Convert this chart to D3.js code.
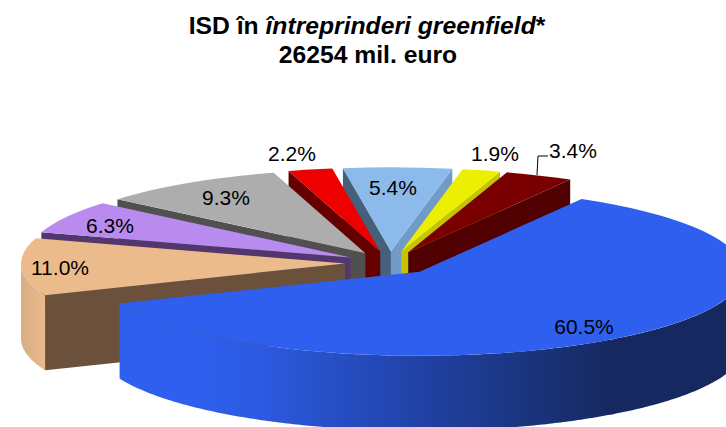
<!DOCTYPE html>
<html>
<head>
<meta charset="utf-8">
<style>
  html, body { margin: 0; padding: 0; background: #fff; }
  svg { display: block; }
  text { font-family: "Liberation Sans", Arial, sans-serif; }
</style>
</head>
<body>
<div id="container"></div>
<script src="https://d3js.org/d3.v7.min.js"></script>
<script>
var labels = ["60.5%", "11.0%", "6.3%", "9.3%", "2.2%", "5.4%", "1.9%", "3.4%"];
var values = [60.5, 11.0, 6.3, 9.3, 2.2, 5.4, 1.9, 3.4];

var topColors = ["#2e5fee", "#ebbb8b", "#b98bee", "#adadad", "#ee0000", "#8cbbeb", "#eeee00", "#7a0000"];
var startWallColors = ["#1b3a90", "#6b503c", "#52376f", "#505050", "#660000", "#45607a", "#8f8f00", "#500000"];
var endWallColors = ["#1b3a90", "#6b503c", "#52376f", "#505050", "#660000", "#709bc6", "#c4c400", "#500000"];

var width = 726, height = 427;
var cx = 390, cy = 263;      // pie centre on screen
var rx = 324, ry = 84;       // ellipse of the tilted pie
var explode = 45, depth = 75;
var tilt = ry / rx;

// label centres
var labelPos = [[584, 326], [60, 267], [110, 225], [226, 197], [292, 153], [393, 187], [495, 153], [573, 150]];

var svg = d3.select("#container").append("svg")
  .attr("width", width)
  .attr("height", height);

var defs = svg.append("defs");

var blueGrad = defs.append("linearGradient").attr("id", "blueWall")
  .attr("gradientUnits", "userSpaceOnUse")
  .attr("x1", 119).attr("x2", 744).attr("y1", 0).attr("y2", 0);
[[0, "#2e5fee"], [0.12, "#2e5fee"], [0.22, "#2c5ae2"], [0.45, "#2245ad"], [0.79, "#15285f"], [1, "#15285f"]].forEach(function (s) {
  blueGrad.append("stop").attr("offset", s[0]).attr("stop-color", s[1]);
});

var tanGrad = defs.append("linearGradient").attr("id", "tanWall")
  .attr("gradientUnits", "userSpaceOnUse")
  .attr("x1", 21).attr("x2", 44).attr("y1", 0).attr("y2", 0);
[[0, "#d8ae84"], [1, "#e8b98b"]].forEach(function (s) {
  tanGrad.append("stop").attr("offset", s[0]).attr("stop-color", s[1]);
});

var arcWallFill = { 0: "url(#blueWall)", 1: "url(#tanWall)" };

var pie = d3.pie().sort(null)
  .startAngle(30 * Math.PI / 180)
  .endAngle(390 * Math.PI / 180);

var slices = pie(values).map(function (d, i) {
  var mid = (d.startAngle + d.endAngle) / 2;
  d.i = i;
  d.mid = mid;
  d.ox = cx + explode * Math.sin(mid);
  d.oy = cy - explode * Math.cos(mid) * tilt;
  return d;
});

// back slices first, so the nearer ones cover their walls
slices.sort(function (a, b) { return Math.cos(b.mid) - Math.cos(a.mid); });

var line = d3.line();
var topArc = d3.arc().innerRadius(0).outerRadius(rx);

function rimPoint(d, a, drop) {
  return [d.ox + rx * Math.sin(a), d.oy - ry * Math.cos(a) + drop];
}

function radialWall(d, a) {
  return line([
    [d.ox, d.oy],
    rimPoint(d, a, 0),
    rimPoint(d, a, depth),
    [d.ox, d.oy + depth]
  ]);
}

// part of the rim that faces the viewer, between 90 and 270 degrees
function rimWall(d) {
  var a0 = Math.max(d.startAngle, Math.PI / 2);
  var a1 = Math.min(d.endAngle, 3 * Math.PI / 2);
  if (a1 <= a0) return null;
  var angles = d3.range(a0, a1, 0.01).concat([a1]);
  var upper = angles.map(function (a) { return rimPoint(d, a, 0); });
  var lower = angles.slice().reverse().map(function (a) { return rimPoint(d, a, depth); });
  return line(upper.concat(lower)) + "Z";
}

var pieG = svg.append("g");

slices.forEach(function (d) {
  var g = pieG.append("g");

  // a cut face shows only if its normal turns towards the viewer
  if (Math.cos(d.startAngle - Math.PI / 2) < 0) {
    g.append("path").attr("d", radialWall(d, d.startAngle)).attr("fill", startWallColors[d.i]);
  }
  if (Math.cos(d.endAngle + Math.PI / 2) < 0) {
    g.append("path").attr("d", radialWall(d, d.endAngle)).attr("fill", endWallColors[d.i]);
  }

  var rim = rimWall(d);
  if (rim) {
    g.append("path").attr("d", rim).attr("fill", arcWallFill[d.i]);
  }

  g.append("path")
    .attr("d", topArc(d))
    .attr("transform", "translate(" + d.ox + "," + d.oy + ") scale(1," + tilt + ")")
    .attr("fill", topColors[d.i]);
});

// leader line of the 3.4% label
svg.append("path")
  .attr("d", line([[537, 175], [538, 156], [548, 156]]))
  .attr("fill", "none")
  .attr("stroke", "#000")
  .attr("stroke-width", 1);

svg.append("g").selectAll("text").data(labels).enter().append("text")
  .attr("x", function (d, i) { return labelPos[i][0]; })
  .attr("y", function (d, i) { return labelPos[i][1]; })
  .attr("text-anchor", "middle")
  .attr("dominant-baseline", "central")
  .style("font-size", "21px")
  .style("fill", "#000")
  .text(function (d) { return d; });

// title
var t1 = svg.append("text")
  .attr("x", 367).attr("y", 34)
  .attr("text-anchor", "middle")
  .style("font-size", "24.7px")
  .style("font-weight", "bold");
t1.append("tspan").text("ISD în ");
t1.append("tspan").style("font-style", "italic").text("întreprinderi greenfield");
t1.append("tspan").text("*");

svg.append("text")
  .attr("x", 368).attr("y", 63)
  .attr("text-anchor", "middle")
  .style("font-size", "24.7px")
  .style("font-weight", "bold")
  .text("26254 mil. euro");
</script>
</body>
</html>
